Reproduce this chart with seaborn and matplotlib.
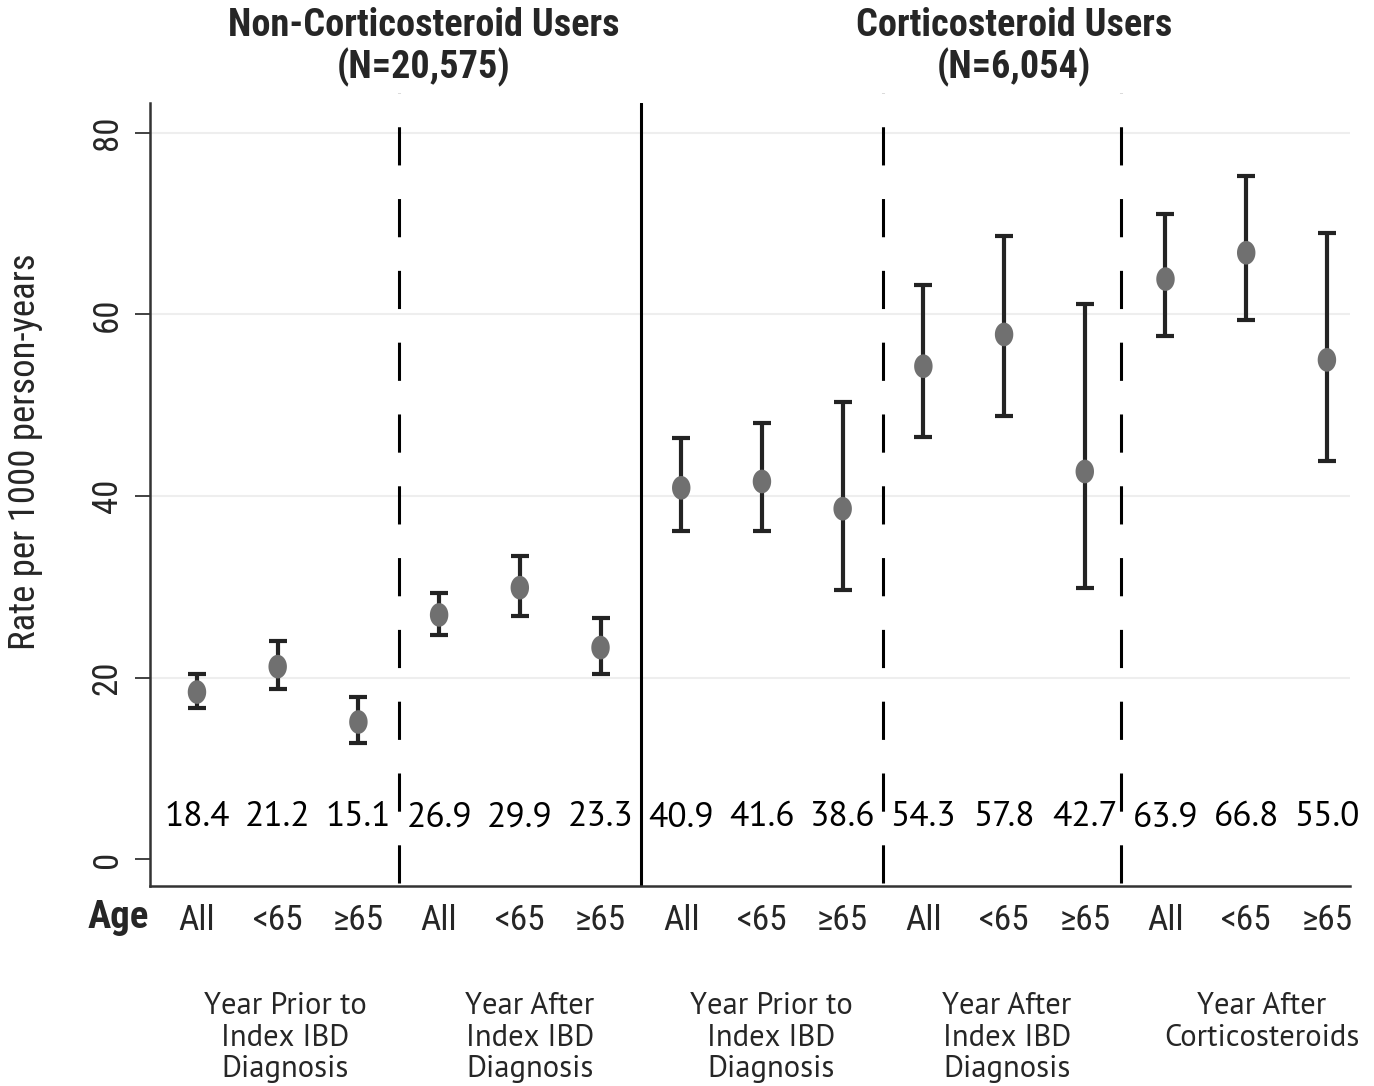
import numpy as np
import pandas as pd
import matplotlib
matplotlib.use("Agg")
import matplotlib.pyplot as plt
import seaborn as sns

# ---------------- data ----------------
age_labels = ["All", "<65", "≥65"] * 5
rates = [18.4, 21.2, 15.1, 26.9, 29.9, 23.3, 40.9, 41.6, 38.6, 54.3, 57.8, 42.7, 63.9, 66.8, 55.0]
ci_low = [16.6, 18.7, 12.8, 24.7, 26.8, 20.4, 36.1, 36.1, 29.6, 46.5, 48.8, 29.9, 57.6, 59.4, 43.9]
ci_high = [20.4, 24.0, 17.9, 29.3, 33.4, 26.6, 46.4, 48.0, 50.4, 63.3, 68.6, 61.2, 71.1, 75.3, 69.0]
rate_text = ["18.4", "21.2", "15.1", "26.9", "29.9", "23.3", "40.9", "41.6", "38.6",
             "54.3", "57.8", "42.7", "63.9", "66.8", "55.0"]
period_labels = ["Year Prior to\nIndex IBD\nDiagnosis", "Year After\nIndex IBD\nDiagnosis",
                 "Year Prior to\nIndex IBD\nDiagnosis", "Year After\nIndex IBD\nDiagnosis",
                 "Year After\nCorticosteroids"]
group_titles = [("Non-Corticosteroid Users", "(N=20,575)"), ("Corticosteroid Users", "(N=6,054)")]
y_ticks = [0, 20, 40, 60, 80]

df = pd.DataFrame({"pos": np.arange(len(rates)), "rate": rates,
                   "lo": ci_low, "hi": ci_high})

# ---------------- style ----------------
sns.set_theme(style="white")
COND = ["Roboto Condensed", "Archivo Narrow", "Liberation Sans", "DejaVu Sans"]
HUM = ["PT Sans", "Liberation Sans", "DejaVu Sans"]
plt.rcParams["font.family"] = COND

W, H = 1374, 1086
fig = plt.figure(figsize=(W / 100, H / 100), dpi=100)
ax = fig.add_axes([150 / W, 1 - 886 / H, 1200 / W, 783 / H])

dark = "#232323"
for yv in y_ticks[1:]:
    ax.axhline(yv, color="#eeeeee", lw=1.5, zorder=0)

ax.errorbar(df["pos"], df["rate"],
            yerr=[df["rate"] - df["lo"], df["hi"] - df["rate"]],
            fmt="none", ecolor=dark, elinewidth=3.0, capsize=6.5, capthick=3.0, zorder=2)

t = np.linspace(0, 2 * np.pi, 60)
ell = list(zip(0.78 * np.cos(t), np.sin(t)))
sns.scatterplot(data=df, x="pos", y="rate", marker=ell, s=290, color="#707070",
                edgecolor="none", linewidth=0, ax=ax, zorder=3, legend=False)

for xv in [2.5, 8.5, 11.45]:
    ax.axvline(xv, ymin=0.004, ymax=1.013, color="black", lw=2.2,
               dashes=(12.5, 11), clip_on=False, zorder=1)
ax.axvline(5.5, color="black", lw=2.2, zorder=1)

for i, txt in enumerate(rate_text):
    ax.text(i, 4.6, txt, ha="center", va="center", fontsize=25.5, color="black", family=HUM)

ax.set_xlim(-0.582, 14.286)
ax.set_ylim(-2.97, 83.3)
ax.set_xticks(range(len(age_labels)))
ax.set_xticklabels(age_labels, fontsize=25.5)
ax.tick_params(axis="x", length=0, pad=13)
ax.set_yticks(y_ticks)
ax.set_yticklabels([str(v) for v in y_ticks], fontsize=25, rotation=90, va="center")
ax.tick_params(axis="y", length=11, width=1.3, color="#333333", pad=8, left=True)
ax.set_xlabel("")
ax.set_ylabel("")
for s in ["top", "right"]:
    ax.spines[s].set_visible(False)
for s in ["left", "bottom"]:
    ax.spines[s].set_color("#333333")
    ax.spines[s].set_linewidth(1.8)

fig.text(25 / W, 1 - 452 / H, "Rate per 1000 person-years", rotation=90,
         ha="center", va="center", fontsize=26.5)
fig.text(118 / W, 1 - 917 / H, "Age", ha="center", va="center", fontsize=28, weight="bold")
for (l1, l2), cx in zip(group_titles, [424, 1014]):
    fig.text(cx / W, 1 - 25 / H, l1, ha="center", va="center", fontsize=27.5, weight="bold")
    fig.text(cx / W, 1 - 67 / H, l2, ha="center", va="center", fontsize=27.5, weight="bold")
for lab, cx in zip(period_labels, [285, 530, 771, 1007, 1262]):
    for j, line in enumerate(lab.split("\n")):
        fig.text(cx / W, 1 - (1006 + 31.5 * j) / H, line, ha="center", va="center",
                 fontsize=22, family=HUM)

fig.savefig("out.png", dpi=100)
